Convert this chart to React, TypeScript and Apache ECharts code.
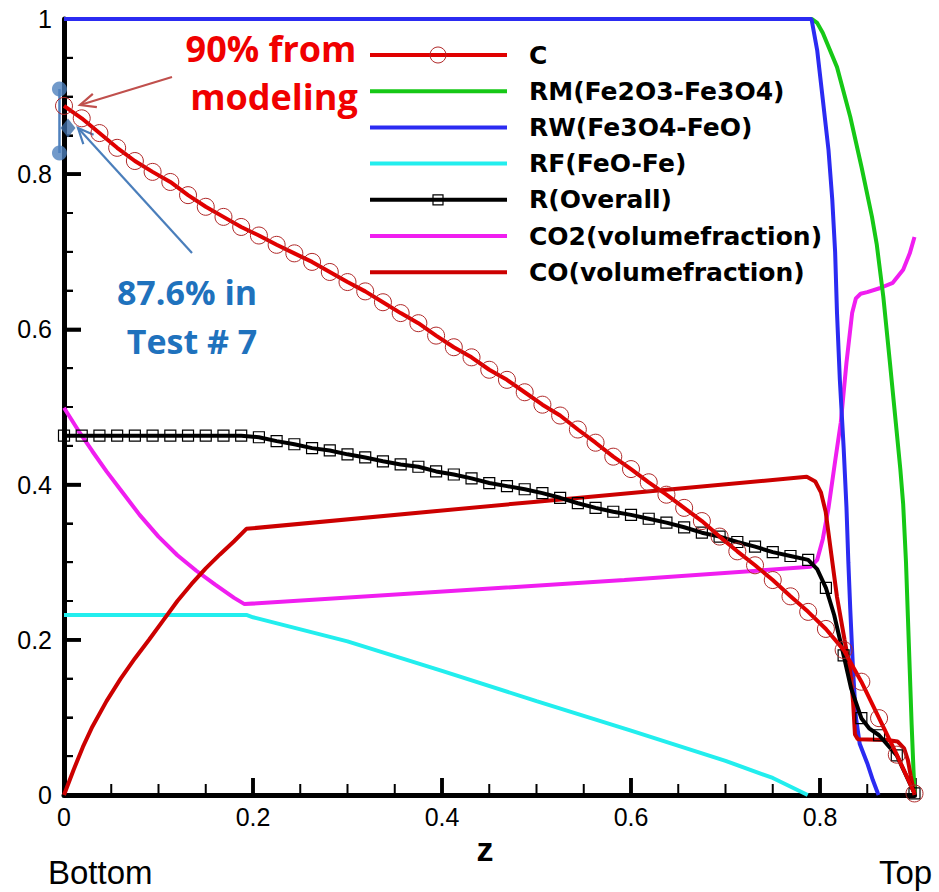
import React, { useEffect, useRef } from "react";
import * as echarts from "echarts";

// z grid used by the marked series (C and R)
const zGrid = [
  0, 0.01875, 0.0375, 0.05625, 0.075, 0.09375, 0.1125, 0.13125, 0.15, 0.16875,
  0.1875, 0.20625, 0.225, 0.24375, 0.2625, 0.28125, 0.3, 0.31875, 0.3375, 0.35625,
  0.375, 0.39375, 0.4125, 0.43125, 0.45, 0.46875, 0.4875, 0.50625, 0.525, 0.54375,
  0.5625, 0.58125, 0.6, 0.61875, 0.6375, 0.65625, 0.675, 0.69375, 0.7125, 0.73125,
  0.75, 0.76875, 0.7875, 0.80625, 0.825, 0.84375, 0.8625, 0.88125, 0.9,
];

const cValues = [
  0.888, 0.872, 0.853, 0.834, 0.817, 0.803, 0.79, 0.773, 0.758, 0.745,
  0.732, 0.721, 0.709, 0.698, 0.687, 0.674, 0.661, 0.649, 0.635, 0.621,
  0.608, 0.592, 0.577, 0.564, 0.548, 0.535, 0.519, 0.503, 0.489, 0.471,
  0.454, 0.436, 0.42, 0.403, 0.387, 0.37, 0.353, 0.333, 0.314, 0.296,
  0.277, 0.256, 0.236, 0.214, 0.187, 0.146, 0.099, 0.052, 0.002,
];

const rValues = [
  0.463, 0.463, 0.463, 0.463, 0.463, 0.463, 0.463, 0.463, 0.463, 0.463,
  0.463, 0.461, 0.456, 0.452, 0.447, 0.444, 0.439, 0.435, 0.43, 0.426,
  0.423, 0.417, 0.413, 0.408, 0.402, 0.398, 0.394, 0.389, 0.383, 0.376,
  0.37, 0.365, 0.361, 0.356, 0.351, 0.345, 0.338, 0.333, 0.326, 0.32,
  0.313, 0.308, 0.303, 0.267, 0.18, 0.099, 0.077, 0.051, 0.002,
];

// extra (unmarked) vertices of the R curve in its bend
const rExtra: [number, number][] = [
  [0.797, 0.291], [0.815, 0.232], [0.833, 0.137], [0.852, 0.086],
];

const rmCurve: [number, number][] = [
  [0, 1], [0.7915, 1], [0.797, 0.995], [0.803, 0.982], [0.818, 0.938], [0.832, 0.874],
  [0.844, 0.809], [0.855, 0.745], [0.86, 0.71], [0.867, 0.642], [0.874, 0.557],
  [0.881, 0.47], [0.885, 0.42], [0.888, 0.375], [0.891, 0.3], [0.893, 0.23],
  [0.895, 0.16], [0.897, 0.09], [0.899, 0.03], [0.9, 0.003],
];

const rwCurve: [number, number][] = [
  [0, 1], [0.791, 1], [0.797, 0.96], [0.803, 0.896], [0.809, 0.831], [0.813, 0.767],
  [0.816, 0.7], [0.818, 0.621], [0.821, 0.535], [0.825, 0.448], [0.828, 0.371],
  [0.83, 0.3], [0.832, 0.24], [0.835, 0.16], [0.838, 0.1], [0.842, 0.066],
  [0.85, 0.041], [0.856, 0.019], [0.861, 0.003], [0.862, 0],
];

const rfCurve: [number, number][] = [
  [0, 0.232], [0.193, 0.232], [0.2, 0.229], [0.3, 0.198], [0.4, 0.16], [0.5, 0.121],
  [0.6, 0.083], [0.7, 0.044], [0.75, 0.022], [0.787, 0],
];

const co2Curve: [number, number][] = [
  [0, 0.499], [0.015, 0.47], [0.03, 0.443], [0.045, 0.417], [0.06, 0.393], [0.08, 0.361],
  [0.1, 0.333], [0.12, 0.309], [0.14, 0.289], [0.16, 0.271], [0.18, 0.254], [0.191, 0.246],
  [0.593, 0.277], [0.79, 0.294], [0.797, 0.303], [0.803, 0.33], [0.809, 0.37],
  [0.816, 0.43], [0.822, 0.48], [0.828, 0.557], [0.834, 0.621], [0.838, 0.64],
  [0.843, 0.646], [0.85, 0.648], [0.863, 0.653], [0.877, 0.66], [0.888, 0.677],
  [0.895, 0.698], [0.9, 0.719],
];

const coCurve: [number, number][] = [
  [0, 0], [0.01, 0.032], [0.02, 0.062], [0.03, 0.088], [0.045, 0.121], [0.06, 0.15],
  [0.075, 0.176], [0.09, 0.2], [0.105, 0.225], [0.12, 0.25], [0.135, 0.272],
  [0.15, 0.292], [0.165, 0.31], [0.18, 0.327], [0.193, 0.343], [0.5, 0.378],
  [0.786, 0.41], [0.795, 0.404], [0.801, 0.39], [0.806, 0.365], [0.812, 0.31],
  [0.818, 0.255], [0.826, 0.2], [0.832, 0.16], [0.835, 0.12], [0.837, 0.078],
  [0.84, 0.072], [0.871, 0.071], [0.882, 0.069], [0.889, 0.06], [0.893, 0.045],
  [0.896, 0.025], [0.9, 0],
];

// experimental result (Test # 7): error bar ends and measured point
const expBarZ = -0.0048;
const expBar = [0.9098, 0.8273];
const expPoint: [number, number] = [0.0042, 0.8595];

const legendNames = [
  "C",
  "RM(Fe2O3-Fe3O4)",
  "RW(Fe3O4-FeO)",
  "RF(FeO-Fe)",
  "R(Overall)",
  "CO2(volumefraction)",
  "CO(volumefraction)",
];
const legendColors = ["#e00000", "#16c816", "#2b2bf2", "#22eeee", "#000000", "#f01ef0", "#cc0000"];

// axis tick values
const xMajorTicks = [0, 0.2, 0.4, 0.6, 0.8];
const xMinorTicks = [0.05, 0.1, 0.15, 0.25, 0.3, 0.35, 0.45, 0.5, 0.55, 0.65, 0.7, 0.75, 0.85];
const yMajorTicks = [0, 0.2, 0.4, 0.6, 0.8, 1];
const yMinorTicks = [
  0.05, 0.1, 0.15, 0.25, 0.3, 0.35, 0.45, 0.5, 0.55, 0.65, 0.7, 0.75, 0.85, 0.9, 0.95,
];

function arrow(x1: number, y1: number, x2: number, y2: number, color: string) {
  const a = Math.atan2(y2 - y1, x2 - x1);
  const L = 17;
  const s = 0.42;
  return {
    type: "group",
    children: [
      { type: "line", shape: { x1, y1, x2, y2 }, style: { stroke: color, lineWidth: 2.2 } },
      {
        type: "polyline",
        shape: {
          points: [
            [x2 - L * Math.cos(a - s), y2 - L * Math.sin(a - s)],
            [x2, y2],
            [x2 - L * Math.cos(a + s), y2 - L * Math.sin(a + s)],
          ],
        },
        style: { stroke: color, lineWidth: 2.2, fill: "none" },
      },
    ],
  };
}

export default function App() {
  const ref = useRef<HTMLDivElement>(null);

  useEffect(() => {
    if (!ref.current) return;
    const chart = echarts.init(ref.current, undefined, { renderer: "svg" });

    const cData = zGrid.map((z, i) => [z, cValues[i]]);
    const rData: any[] = zGrid.map((z, i) => ({ value: [z, rValues[i]] }));
    rExtra.forEach((p) => rData.push({ value: p, symbol: "none" }));
    rData.sort((a, b) => a.value[0] - b.value[0]);

    const axisFont = { fontFamily: "'Liberation Sans', Arial, sans-serif", fontSize: 25, color: "#000" };
    const LW = 4;
    const plain = (name: string, data: any, color: string, z = 2) => ({
      name,
      type: "line",
      data,
      showSymbol: false,
      symbol: "none",
      lineStyle: { color, width: LW },
      itemStyle: { color },
      z,
    });

    const legendTop = 55;
    const legendStep = 36.2;
    const graphics: any[] = [];
    legendNames.forEach((n, i) => {
      const y = legendTop + i * legendStep;
      graphics.push({
        type: "line",
        shape: { x1: 370, y1: y, x2: 507, y2: y },
        style: { stroke: legendColors[i], lineWidth: LW },
      });
      if (i === 0) {
        graphics.push({
          type: "circle",
          shape: { cx: 438, cy: y, r: 8 },
          style: { stroke: "#b02828", lineWidth: 1, fill: "none" },
        });
      }
      if (i === 4) {
        graphics.push({
          type: "rect",
          shape: { x: 433, y: y - 5, width: 10, height: 10 },
          style: { stroke: "#000", lineWidth: 1.2, fill: "none" },
        });
      }
      graphics.push({
        type: "text",
        x: 529,
        y,
        style: {
          text: n,
          font: "bold 25px 'DejaVu Sans', sans-serif",
          fill: "#000",
          verticalAlign: "middle",
        },
      });
    });

    const annotationFont = "bold 36px 'Open Sans', sans-serif";
    const blueFont = "bold 34px 'Open Sans', sans-serif";

    graphics.push(
      arrow(172, 77, 80, 105, "#c0504d"),
      arrow(192, 253, 78, 128, "#4a7ebb"),
      {
        type: "text",
        x: 271,
        y: 48,
        style: { text: "90% from", font: annotationFont, fill: "#f00000", align: "center", verticalAlign: "middle" },
      },
      {
        type: "text",
        x: 274,
        y: 96,
        style: { text: "modeling", font: annotationFont, fill: "#f00000", align: "center", verticalAlign: "middle" },
      },
      {
        type: "text",
        x: 187,
        y: 292,
        style: { text: "87.6% in", font: blueFont, fill: "#1f72bd", align: "center", verticalAlign: "middle" },
      },
      {
        type: "text",
        x: 192,
        y: 341,
        style: { text: "Test # 7", font: blueFont, fill: "#1f72bd", align: "center", verticalAlign: "middle" },
      },
      {
        type: "text",
        x: 485,
        y: 849,
        style: { text: "z", font: "bold 34px 'Liberation Sans', Arial, sans-serif", fill: "#000", align: "center", verticalAlign: "middle" },
      },
      {
        type: "text",
        x: 48,
        y: 872,
        style: { text: "Bottom", font: "33px 'Liberation Sans', Arial, sans-serif", fill: "#000", align: "left", verticalAlign: "middle" },
      },
      {
        type: "text",
        x: 879,
        y: 872,
        style: { text: "Top", font: "33px 'Liberation Sans', Arial, sans-serif", fill: "#000", align: "left", verticalAlign: "middle" },
      }
    );

    chart.setOption({
      animation: false,
      grid: { left: 64, right: 24.5, top: 19, bottom: 97 },
      xAxis: {
        type: "value",
        min: 0,
        max: 0.9,
        interval: 0.2,
        axisLine: { show: true, lineStyle: { color: "#000", width: 5 } },
        axisTick: { show: true, inside: true, length: 17, lineStyle: { color: "#000", width: 3.5 } },
        minorTick: { show: false },
        axisLabel: {
          ...axisFont,
          margin: 9,
          formatter: (v: number) => (v > 0.85 ? "" : String(Math.round(v * 10) / 10)),
        },
        splitLine: { show: false },
      },
      yAxis: {
        type: "value",
        min: 0,
        max: 1,
        interval: 0.2,
        axisLine: { show: true, lineStyle: { color: "#000", width: 5 } },
        axisTick: { show: true, inside: true, length: 17, lineStyle: { color: "#000", width: 3.5 } },
        minorTick: { show: true, splitNumber: 4, length: 9, lineStyle: { color: "#000", width: 2 } },
        axisLabel: { ...axisFont, margin: 12 },
        splitLine: { show: false },
      },
      series: [
        plain("RF(FeO-Fe)", rfCurve, legendColors[3]),
        plain("CO2(volumefraction)", co2Curve, legendColors[5]),
        plain("RM(Fe2O3-Fe3O4)", rmCurve, legendColors[1], 3),
        plain("RW(Fe3O4-FeO)", rwCurve, legendColors[2], 3),
        plain("CO(volumefraction)", coCurve, legendColors[6], 4),
        {
          name: "R(Overall)",
          type: "line",
          data: rData,
          symbol: "rect",
          symbolSize: 11,
          showAllSymbol: true,
          lineStyle: { color: "#000", width: LW },
          itemStyle: { color: "rgba(0,0,0,0)", borderColor: "#000", borderWidth: 1.2 },
          z: 5,
        },
        {
          name: "C",
          type: "line",
          data: cData,
          symbol: "circle",
          symbolSize: 17,
          showAllSymbol: true,
          lineStyle: { color: "#e00000", width: LW },
          itemStyle: { color: "rgba(0,0,0,0)", borderColor: "#b02828", borderWidth: 1 },
          z: 6,
        },
        {
          name: "Test # 7",
          type: "scatter",
          data: [[expBarZ, expBar[0]], [expBarZ, expBar[1]]],
          symbol: "circle",
          symbolSize: 15,
          clip: false,
          itemStyle: { color: "#4f81bd" },
          z: 12,
        },
        {
          name: "Test # 7 point",
          type: "scatter",
          data: [expPoint],
          symbol: "diamond",
          symbolSize: [15, 19],
          clip: false,
          itemStyle: { color: "#3c6aa2" },
          z: 13,
        },
      ],
    });

    // ticks and the error bar, placed through the chart's own axis scales
    const xPix = (v: number) => chart.convertToPixel({ xAxisIndex: 0 }, v) as number;
    const yPix = (v: number) => chart.convertToPixel({ yAxisIndex: 0 }, v) as number;
    const x0 = xPix(0);
    const y0 = yPix(0);
    const seg = (x1: number, y1: number, x2: number, y2: number, w: number, color = "#000") => ({
      type: "line",
      shape: { x1, y1, x2, y2 },
      style: { stroke: color, lineWidth: w },
    });
    const extra: any[] = [];
    xMajorTicks.forEach((v) => extra.push(seg(xPix(v), y0, xPix(v), y0 - 17, 3.5)));
    xMinorTicks.forEach((v) => extra.push(seg(xPix(v), y0, xPix(v), y0 - 11, 2)));
    yMajorTicks.forEach((v) => extra.push(seg(x0, yPix(v), x0 + 17, yPix(v), 3.5)));
    yMinorTicks.forEach((v) => extra.push(seg(x0, yPix(v), x0 + 9, yPix(v), 2)));
    extra.push(seg(xPix(expBarZ), yPix(expBar[0]), xPix(expBarZ), yPix(expBar[1]), 2.5, "#4f81bd"));

    chart.setOption({ graphic: [...extra, ...graphics] });

    return () => chart.dispose();
  }, []);

  return (
    <div
      ref={ref}
      style={{ position: "fixed", left: 0, top: 0, width: 939, height: 892, background: "#fff" }}
    />
  );
}
